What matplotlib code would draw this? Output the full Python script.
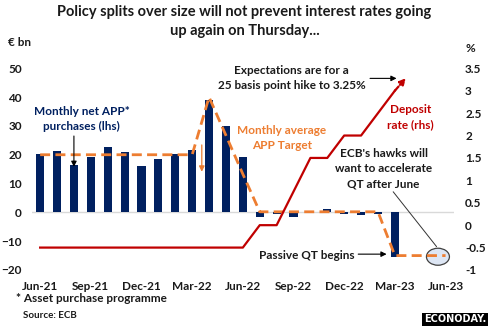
import matplotlib
matplotlib.use("Agg")
import matplotlib.pyplot as plt
from matplotlib.patches import Ellipse, Rectangle
import numpy as np

plt.rcParams["font.family"] = ["Lato", "DejaVu Sans"]

months = ["Jun-21", "Jul-21", "Aug-21", "Sep-21", "Oct-21", "Nov-21", "Dec-21",
          "Jan-22", "Feb-22", "Mar-22", "Apr-22", "May-22", "Jun-22", "Jul-22",
          "Aug-22", "Sep-22", "Oct-22", "Nov-22", "Dec-22", "Jan-23", "Feb-23",
          "Mar-23", "Apr-23", "May-23", "Jun-23"]

# monthly net APP purchases, EUR bn (Jun-21 .. Mar-23)
app_purchases = [20.2, 21.3, 16.4, 19.2, 22.7, 20.9, 16.1, 18.5, 20.2, 21.6,
                 39.0, 30.0, 19.3, -1.7, -0.6, -1.7, -0.1, 1.1, -0.6, -0.8,
                 -0.6, -15.4]

# monthly average APP target, EUR bn (Jun-21 .. Jun-23)
app_target = [20, 20, 20, 20, 20, 20, 20, 20, 20, 20,
              40, 26.7, 13.3, 0.2, 0.2, 0.2, 0.2, 0.2, 0.2, 0.2,
              0.2, -15, -15, -15, -15]

# ECB deposit rate, % (Jun-21 .. Mar-23)
deposit_rate = [-0.5, -0.5, -0.5, -0.5, -0.5, -0.5, -0.5, -0.5, -0.5, -0.5,
                -0.5, -0.5, -0.5, 0, 0, 0.75, 1.5, 1.5, 2.0, 2.0, 2.5, 3.0]
expected_rate = 3.25

tick_every = 3

NAVY = "#002060"
ORANGE = "#ED7D31"
RED = "#C00000"

fig = plt.figure(figsize=(4.89, 3.26), dpi=100)
ax = fig.add_axes([0.0648, 0.1718, 0.8636, 0.6187])
ax2 = ax.twinx()

x = np.arange(len(months))
ax.axhline(0, color="#d9d9d9", lw=1, zorder=0)
ax.bar(x[:len(app_purchases)], app_purchases, width=0.48, color=NAVY, zorder=2)
ax.plot(x[:len(app_target)], app_target, color=ORANGE, lw=2,
        ls=(0, (3.6, 1.9)), zorder=3)
ax2.plot(x[:len(deposit_rate)], deposit_rate, color=RED, lw=1.6, zorder=3)

ax.set_xlim(-0.5, len(months) - 0.5)
ax.set_ylim(-20, 50)
ax2.set_ylim(-1, 3.5)

ax.set_xticks(x[::tick_every])
ax.set_xticklabels(months[::tick_every])
ax.set_yticks(np.arange(-20, 51, 10))
r_ticks = np.arange(-1, 3.51, 0.5)
ax2.set_yticks(r_ticks)
ax2.set_yticklabels([f"{v:g}" for v in r_ticks])

for a in (ax, ax2):
    for s in a.spines.values():
        s.set_visible(False)
ax.tick_params(axis="x", length=0, pad=8, labelsize=8.5)
ax.tick_params(axis="y", length=0, pad=7, labelsize=8.5)
ax2.tick_params(axis="y", length=0, pad=8, labelsize=8.5)
for lab in ax.get_xticklabels() + ax.get_yticklabels() + ax2.get_yticklabels():
    lab.set_fontweight("bold")
    lab.set_color("#1a1a1a")

# red dashed arrow to expected hike
ax2.annotate("", xy=(21.65, expected_rate + 0.03), xytext=(21, deposit_rate[-1]),
             arrowprops=dict(arrowstyle="-|>", color=RED, lw=1.6, ls=(0, (2.5, 1)),
                             mutation_scale=9, shrinkA=0, shrinkB=0))

fig.suptitle("Policy splits over size will not prevent interest rates going\n"
             "up again on Thursday...", x=0.5, y=0.985, fontsize=10.5,
             fontweight="bold", color="#1a1a1a", linespacing=1.5)

fig.text(8 / 489, 1 - 43 / 326, "€ bn", fontsize=8.5, fontweight="bold",
         va="center", ha="left", color="#1a1a1a")
fig.text(470 / 489, 1 - 48 / 326, "%", fontsize=8.5, fontweight="bold",
         va="center", ha="center", color="#1a1a1a")

kw = dict(fontsize=8.5, fontweight="bold", ha="center", va="center",
          linespacing=1.45)
ax.text(2.47, 32.4, "Monthly net APP*\npurchases (lhs)", color=NAVY, **kw)
ax.annotate("", xy=(2.0, 15.8), xytext=(2.0, 26.5),
            arrowprops=dict(arrowstyle="-|>", color="black", lw=0.8,
                            mutation_scale=8, shrinkA=0, shrinkB=0))
ax.text(14.3, 25.8, "Monthly average\nAPP Target", color=ORANGE, **kw)
ax.annotate("", xy=(9.57, 14.1), xytext=(9.57, 23.4),
            arrowprops=dict(arrowstyle="-|>", color=ORANGE, lw=0.9,
                            mutation_scale=8, shrinkA=0, shrinkB=0))
ax.text(14.88, 46.5, "Expectations are for a\n25 basis point hike to 3.25%",
        color="#1a1a1a", **kw)
ax.annotate("", xy=(21.1, 46.5), xytext=(19.53, 46.5),
            arrowprops=dict(arrowstyle="-|>", color="black", lw=0.8,
                            mutation_scale=8, shrinkA=0, shrinkB=0))
ax.text(21.93, 33.0, "Deposit\nrate (rhs)", color=RED, **kw)
ax.text(20.33, 15.1, "ECB's hawks will\nwant to accelerate\nQT after June",
        color="#1a1a1a", **kw)
ax.annotate("", xy=(23.47, -11.9), xytext=(20.9, 7.15),
            arrowprops=dict(arrowstyle="-", color="#333333", lw=0.7,
                            shrinkA=0, shrinkB=0))
ax.text(15.78, -14.8, "Passive QT begins", color="#1a1a1a", **kw)
ax.annotate("", xy=(20.51, -14.5), xytext=(18.83, -14.5),
            arrowprops=dict(arrowstyle="-|>", color="black", lw=0.8,
                            mutation_scale=8, shrinkA=0, shrinkB=0))
ax.add_patch(Ellipse((23.55, -15.4), 1.36, 5.9, facecolor="#dde6f4",
                     edgecolor="#404040", lw=0.9, zorder=1, clip_on=False))

fig.text(16 / 489, 1 - 299 / 326, "* Asset purchase programme", fontsize=8.5,
         fontweight="bold", va="center", ha="left", color="#1a1a1a")
fig.text(23 / 489, 1 - 316 / 326, "Source: ECB", fontsize=7, fontweight="bold",
         va="center", ha="left", color="#1a1a1a")

# logo
fig.patches.append(Rectangle((421.7 / 489, 0.0), 67.3 / 489, 13.5 / 326,
                             transform=fig.transFigure, facecolor="black",
                             edgecolor="none"))
fig.text(455 / 489, 6.8 / 326, "ECONODAY.", fontsize=7, fontweight="bold",
         color="white", ha="center", va="center", family="DejaVu Sans")

fig.savefig("out.png", dpi=100)
